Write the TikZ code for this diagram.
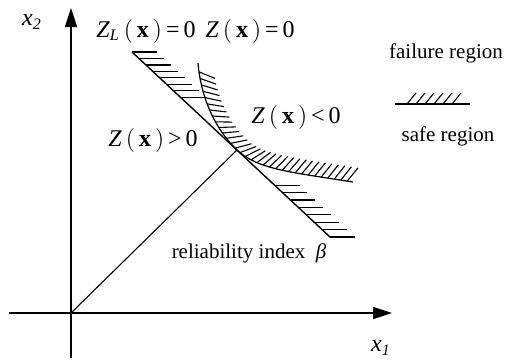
\documentclass[tikz,border=0pt]{standalone}
\usepackage{fontspec}
\setmainfont{Liberation Serif}
\usetikzlibrary{arrows.meta,calc,decorations.markings}

\begin{document}
\begin{tikzpicture}[x=.5pt,y=.5pt,>={Triangle[length=9.5pt,width=6pt]},
  lbl/.style={inner sep=0pt,font=\fontsize{10.5}{12}\selectfont},
  mlbl/.style={inner sep=0pt,font=\fontsize{12}{14}\selectfont},
  hatchcurve/.style={postaction={decorate,decoration={markings,
    mark=between positions 4.5pt and 1 step 3.3pt with {\draw[line width=.55pt](0,0)--(60:8.5pt);}}}}]
\useasboundingbox (0,0) rectangle (507,360);
\coordinate (O) at (71,47);
\coordinate (T) at (237,210);
\coordinate (A) at (132,308);
\coordinate (B) at (330,123);
% axes
\draw[line width=.8pt,->](9,47)--(392,47);
\draw[line width=.8pt,->](71,2)--(71,352);
\node[mlbl] (xa) at (381,12){\textit{x}\textsubscript{\textit{1}}};
\node[mlbl] (ya) at (32,338){\textit{x}\textsubscript{\textit{2}}};
% linear limit state and hatches
\draw[line width=.7pt](A)--(B);
\foreach \t in {0,.035,.07,.105,.14,.175,.21,.245}
  \draw[line width=.55pt]($(A)!\t!(B)$)--++(25,0);
\foreach \t in {.72,.76,.8,.84,.88,.92,.96,1}
  \draw[line width=.55pt]($(A)!\t!(B)$)--++(25,0);
% limit state curve
\draw[line width=.6pt,hatchcurve](198,297) .. controls (201,262) and (215,231) .. (T)
  .. controls (258,190.5) and (290,188) .. (353,178);
\draw[line width=.55pt](O)--(T);
% labels
\node[mlbl] (zl) at (146,329){\textit{Z}\textsubscript{\textit{L}}\,$\big($\,\textbf{x}\,$\big)$\,=\,0};
\node[mlbl] (z0) at (250,329){\textit{Z}\,$\big($\,\textbf{x}\,$\big)$\,=\,0};
\node[mlbl] (zn) at (296,243){\textit{Z}\,$\big($\,\textbf{x}\,$\big)$\,<\,0};
\node[mlbl] (zp) at (153,220){\textit{Z}\,$\big($\,\textbf{x}\,$\big)$\,>\,0};
\node[lbl] (beta) at (249,107){reliability index\ \ \textit{β}};
% legend
\node[lbl] (fail) at (446,307){failure region};
\node[lbl] (safe) at (448,224){safe region};
\draw[line width=.7pt](395,256)--(470,256);
\foreach \x in {407,416,...,452}
  \draw[line width=.55pt](\x,256)--++(9,11);
\end{tikzpicture}
\end{document}
